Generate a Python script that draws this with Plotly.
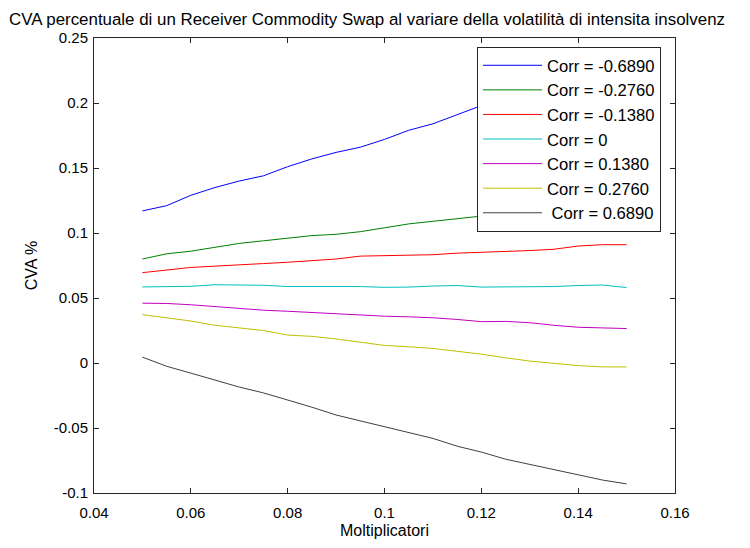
import plotly.graph_objects as go

moltiplicatori = [0.05, 0.055, 0.06, 0.065, 0.07, 0.075, 0.08, 0.085, 0.09, 0.095, 0.10,
                  0.105, 0.11, 0.115, 0.12, 0.125, 0.13, 0.135, 0.14, 0.145, 0.15]

cva_m0689 = [0.117, 0.121, 0.129, 0.135, 0.140, 0.144, 0.151, 0.157, 0.162, 0.166, 0.172,
             0.179, 0.184, 0.191, 0.198, 0.203, 0.208, 0.214, 0.219, 0.224, 0.229]
cva_m0276 = [0.080, 0.084, 0.086, 0.089, 0.092, 0.094, 0.096, 0.098, 0.099, 0.101, 0.104,
             0.107, 0.109, 0.111, 0.113, 0.116, 0.118, 0.120, 0.122, 0.124, 0.126]
cva_m0138 = [0.0695, 0.0715, 0.0735, 0.0745, 0.0757, 0.0765, 0.0775, 0.0785, 0.0800, 0.0822, 0.0825,
             0.0827, 0.0833, 0.0845, 0.0850, 0.0860, 0.0865, 0.0875, 0.0900, 0.0910, 0.0910]
cva_0 = [0.0585, 0.0585, 0.0590, 0.0602, 0.0602, 0.0598, 0.0588, 0.0588, 0.0588, 0.0588, 0.0582,
         0.0584, 0.0592, 0.0596, 0.0584, 0.0584, 0.0586, 0.0588, 0.0596, 0.0600, 0.0580]
cva_p0138 = [0.0460, 0.0458, 0.0448, 0.0433, 0.0418, 0.0406, 0.0398, 0.0388, 0.0380, 0.0370, 0.0360,
             0.0355, 0.0348, 0.0335, 0.0318, 0.0320, 0.0310, 0.0290, 0.0275, 0.0270, 0.0265]
cva_p0276 = [0.0372, 0.0350, 0.0323, 0.0290, 0.0272, 0.0250, 0.0215, 0.0205, 0.0185, 0.0160, 0.0135,
             0.0125, 0.0112, 0.0090, 0.0068, 0.0040, 0.0015, -0.0003, -0.0020, -0.0030, -0.0030]
cva_p0689 = [0.0045, -0.0025, -0.0078, -0.0130, -0.0185, -0.0230, -0.0283, -0.0340, -0.0400, -0.0445, -0.0485,
             -0.0530, -0.0580, -0.0640, -0.0685, -0.0740, -0.0780, -0.0820, -0.0860, -0.0900, -0.0930]

series_names = ["Corr = -0.6890", "Corr = -0.2760", "Corr = -0.1380", "Corr = 0",
                "Corr = 0.1380", "Corr = 0.2760", "\u00a0Corr = 0.6890"]
series_values = [cva_m0689, cva_m0276, cva_m0138, cva_0, cva_p0138, cva_p0276, cva_p0689]
series_colors = ["#0000ff", "#008000", "#ff0000", "#00bfbf", "#bf00bf", "#bfbf00", "#404040"]

x_tickvals = [0.04, 0.06, 0.08, 0.10, 0.12, 0.14, 0.16]
x_ticktext = ["0.04", "0.06", "0.08", "0.1", "0.12", "0.14", "0.16"]
y_tickvals = [-0.10, -0.05, 0.0, 0.05, 0.10, 0.15, 0.20, 0.25]
y_ticktext = ["-0.1", "-0.05", "0", "0.05", "0.1", "0.15", "0.2", "0.25"]

title_text = "CVA percentuale di un Receiver Commodity Swap al variare della volatilità di intensita insolvenz"
x_title = "Moltiplicatori"
y_title = "CVA %"

FONT = "Liberation Sans, Arial, sans-serif"

# page has an 8px body margin, so the figure is drawn 8px in from the top-left
W, H = 742, 540
ML, MR, MT, MB = 86, 75, 30, 55
PW, PH = W - ML - MR, H - MT - MB

fig = go.Figure()
for name, vals, col in zip(series_names, series_values, series_colors):
    fig.add_trace(go.Scatter(x=moltiplicatori, y=vals, mode="lines", name=name,
                             line=dict(color=col, width=1)))

axis_common = dict(showline=True, linecolor="#262626", linewidth=1, mirror="ticks",
                   ticks="inside", ticklen=5, tickcolor="#262626", tickwidth=1,
                   showgrid=False, zeroline=False,
                   tickfont=dict(family=FONT, size=15, color="#000000"))

fig.update_layout(
    width=W, height=H,
    margin=dict(l=ML, r=MR, t=MT, b=MB, pad=0),
    paper_bgcolor="white", plot_bgcolor="white",
    font=dict(family=FONT, color="#000000"),
    title=dict(text=title_text, xref="container", x=1 / W, xanchor="left",
               yref="container", y=1 - 11 / H, yanchor="middle",
               font=dict(family=FONT, size=16.9, color="#000000")),
    xaxis=dict(range=[0.04, 0.16], tickvals=x_tickvals, ticktext=x_ticktext,
               ticklabelstandoff=6,
               title=dict(text=x_title, font=dict(family=FONT, size=16), standoff=4),
               **axis_common),
    yaxis=dict(range=[-0.1, 0.25], tickvals=y_tickvals, ticktext=y_ticktext,
               ticklabelstandoff=2,
               title=dict(text=y_title, font=dict(family=FONT, size=16), standoff=12),
               **axis_common),
    legend=dict(x=(469 - ML) / PW, xanchor="left", y=(485 - 39) / PH, yanchor="top",
                bgcolor="white", bordercolor="#262626", borderwidth=1,
                font=dict(family=FONT, size=16.6, color="#000000"),
                itemwidth=59, tracegroupgap=0),
    showlegend=True,
)

fig.write_html("out.html")
